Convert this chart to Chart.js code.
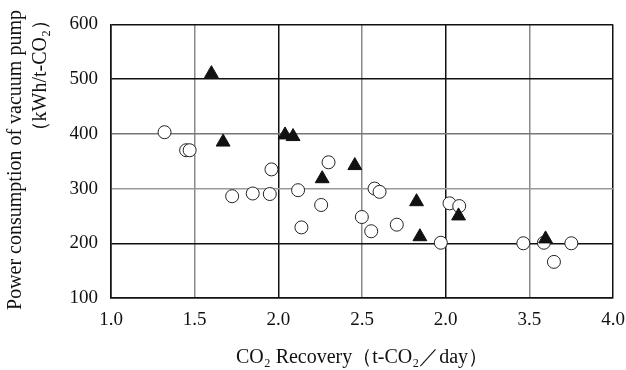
<!DOCTYPE html>
<html>
<head>
<meta charset="utf-8">
<script src="https://cdn.jsdelivr.net/npm/chart.js@4/dist/chart.umd.min.js"></script>
<style>
  html, body { margin: 0; padding: 0; background: #fff; }
  #wrap { width: 626px; height: 370px; }
</style>
</head>
<body>
<div id="wrap"><canvas id="chart" width="626" height="370"></canvas></div>
<script>
// open circles
var circleX = [1.32, 1.449, 1.47, 1.724, 1.847, 1.949, 1.959, 2.118, 2.138, 2.256, 2.30, 2.499, 2.555, 2.575, 2.605, 2.708, 2.971, 3.023, 3.081, 3.464, 3.587, 3.647, 3.751];
var circleY = [403, 370, 370, 286, 291, 290, 335, 297, 229, 270, 348, 248, 222, 300, 294, 234, 201, 273, 268, 200, 201, 166, 200];

// filled triangles
var triX = [1.60, 1.67, 2.04, 2.088, 2.262, 2.457, 2.826, 2.846, 3.077, 3.597];
var triY = [510, 385, 398, 395, 318, 342, 276, 212, 250, 208];

// tick labels as printed (the 3.0 tick reads "2.0" in the original)
var xTickValues = [1.0, 1.5, 2.0, 2.5, 3.0, 3.5, 4.0];
var xTickLabels = ['1.0', '1.5', '2.0', '2.5', '2.0', '3.5', '4.0'];
var yTickValues = [100, 200, 300, 400, 500, 600];

var yTitleLines = ['Power consumption of vacuum pump', '（kWh/t-CO₂）'];
var xTitle = 'CO₂ Recovery（t-CO₂／day）';

function toPoints(xs, ys) {
  return xs.map(function (x, i) { return { x: x, y: ys[i] }; });
}

var serif = "'Liberation Serif', 'DejaVu Serif', serif";

// y title: first line centred on the plot, second line aligned to its top end
var yTitlePlugin = {
  id: 'yTitle',
  afterDraw: function (chart) {
    var ctx = chart.ctx;
    ctx.save();
    ctx.fillStyle = '#111';
    ctx.font = '20px ' + serif;
    ctx.textBaseline = 'middle';

    ctx.save();
    ctx.translate(16, 160);
    ctx.rotate(-Math.PI / 2);
    ctx.textAlign = 'center';
    ctx.fillText(yTitleLines[0], 0, 0);
    ctx.restore();

    ctx.save();
    ctx.translate(41, 10);
    ctx.rotate(-Math.PI / 2);
    ctx.textAlign = 'right';
    ctx.fillText(yTitleLines[1], 0, 0);
    ctx.restore();

    ctx.restore();
  }
};

new Chart(document.getElementById('chart'), {
  type: 'scatter',
  data: {
    datasets: [{
      data: toPoints(circleX, circleY),
      order: 2,
      pointStyle: 'circle',
      pointRadius: 6.5,
      pointBorderWidth: 1,
      borderColor: '#222',
      backgroundColor: '#fff'
    }, {
      data: toPoints(triX, triY),
      order: 1,
      pointStyle: 'triangle',
      pointRadius: 8,
      pointBorderWidth: 1,
      borderColor: '#111',
      backgroundColor: '#111'
    }]
  },
  options: {
    responsive: false,
    animation: false,
    layout: { padding: { top: 24, right: 0, left: 0, bottom: 0 } },
    plugins: {
      legend: { display: false },
      tooltip: { enabled: false }
    },
    scales: {
      x: {
        type: 'linear',
        min: 1, max: 4,
        afterBuildTicks: function (axis) {
          axis.ticks = xTickValues.map(function (v) { return { value: v }; });
        },
        afterFit: function (axis) {
          axis.height = 72;
          axis.paddingRight = 13;
        },
        ticks: {
          color: '#111',
          font: { family: serif, size: 19 },
          padding: 11,
          maxRotation: 0,
          callback: function (value) {
            var i = xTickValues.indexOf(value);
            return i >= 0 ? xTickLabels[i] : '';
          }
        },
        grid: {
          drawTicks: false,
          lineWidth: 1.5,
          color: function (ctx) {
            var v = ctx.tick && ctx.tick.value;
            return (v === 1.5 || v === 2.5 || v === 3.5) ? '#8a8a8a' : '#111';
          }
        },
        border: { color: '#111', width: 1.5 },
        title: {
          display: true,
          text: xTitle,
          color: '#111',
          font: { family: serif, size: 20 },
          padding: { top: 19, bottom: 0 }
        }
      },
      y: {
        min: 100, max: 600,
        afterBuildTicks: function (axis) {
          axis.ticks = yTickValues.map(function (v) { return { value: v }; });
        },
        afterFit: function (axis) { axis.width = 111; },
        ticks: {
          color: '#111',
          font: { family: serif, size: 19 },
          padding: 13
        },
        grid: {
          drawTicks: false,
          lineWidth: 1.5,
          color: function (ctx) {
            var v = ctx.tick && ctx.tick.value;
            if (v === 400) return '#777';
            if (v === 300) return '#999';
            return '#111';
          }
        },
        border: { color: '#111', width: 1.5 }
      }
    }
  },
  plugins: [yTitlePlugin]
});
</script>
</body>
</html>
